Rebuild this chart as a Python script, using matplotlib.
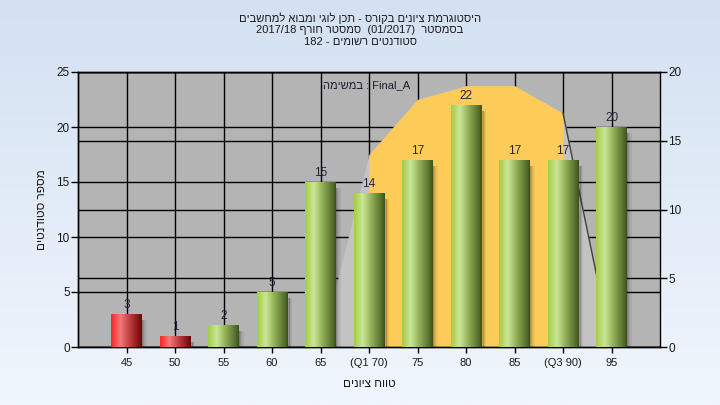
import numpy as np
import matplotlib
matplotlib.use("Agg")
import matplotlib.pyplot as plt
from matplotlib.colors import LinearSegmentedColormap

plt.rcParams['font.family'] = ['Liberation Sans', 'DejaVu Sans']

# ---- data ----
categories = ["45", "50", "55", "60", "65", "(Q1 70)", "75", "80", "85", "(Q3 90)", "95"]
counts = [3, 1, 2, 5, 15, 14, 17, 22, 17, 17, 20]
fail_flags = [True, True, False, False, False, False, False, False, False, False, False]
# distribution curve (right axis), from "65" to "95"
curve_idx = [4, 5, 6, 7, 8, 9, 10]
curve_vals = [0, 14, 18, 19, 19, 17, 0]
iqr_from, iqr_to = 5, 9   # Q1 .. Q3 indices

left_ticks = [0, 5, 10, 15, 20, 25]
right_ticks = [0, 5, 10, 15, 20]

title_lines = [
    "היסטוגרמת ציונים בקורס - תכן לוגי ומבוא למחשבים",
    ("2017/18 ", "סמסטר חורף", "  (01/2017)  ", "בסמסטר"),
    ("182 - ", "סטודנטים רשומים"),
]
xlabel = "טווח ציונים"
ylabel = "מספר סטודנטים"
legend_txt = ("במשימה", " : Final_A")


def vis(s):
    """visual (left-to-right) order for a pure Hebrew run"""
    return s[::-1]


fig = plt.figure(figsize=(7.2, 4.05), dpi=100)

# background gradient
bg = fig.add_axes([0, 0, 1, 1], zorder=-10)
grad = np.linspace(0, 1, 256).reshape(-1, 1)
bgcmap = LinearSegmentedColormap.from_list("bg", ["#d4e1f2", "#f0f6fd"])
bg.imshow(grad, aspect="auto", cmap=bgcmap, extent=[0, 1, 0, 1])
bg.axis("off")

pos = [78 / 720, 58 / 405, 582 / 720, 275 / 405]
axR = fig.add_axes(pos, zorder=1)
ax = fig.add_axes(pos, zorder=2)
ax.patch.set_visible(False)
axR.set_facecolor("#b4b4b4")

n = len(categories)
x = np.arange(n)
for a_ in (ax, axR):
    a_.set_xlim(-1, n)
ax.set_ylim(0, 25)
axR.set_ylim(0, 20)

# gridlines (below the area)
for xv in x:
    axR.axvline(xv, color="black", lw=1.0, zorder=0.5)
for yv in right_ticks:
    axR.axhline(yv, color="black", lw=1.0, zorder=0.5)
for yv in left_ticks:
    axR.plot([0, 1], [yv, yv], transform=ax.get_yaxis_transform(),
             color="black", lw=1.0, zorder=0.5)

# distribution area
cx = np.array(curve_idx)
cv = np.array(curve_vals)
axR.fill_between(cx, 0, cv, color="#c3c3c3", lw=0, zorder=1)
m = (cx >= iqr_from) & (cx <= iqr_to)
axR.fill_between(cx[m], 0, cv[m], color="#fdcb58", lw=0, zorder=1.2)
m2 = cx >= iqr_to
axR.plot(cx[m2], cv[m2], color="#404040", lw=1.0, zorder=1.3)

# bars
bw = 0.62
# shadows
for k, a in enumerate([0.30, 0.20, 0.12, 0.06]):
    ax.bar(x + bw / 2 + k * 0.025, np.array(counts) - 0.4, width=0.03,
           bottom=-0.15, align="edge", color="black", alpha=a, lw=0, zorder=2)
bars = ax.bar(x, counts, width=bw, color="#9cc64a", lw=0, zorder=3)

green = LinearSegmentedColormap.from_list(
    "g", [(0, "#a2cc45"), (0.28, "#cbe697"), (0.55, "#94b35a"), (0.93, "#4d6626"), (1, "#3a4e1c")])
red = LinearSegmentedColormap.from_list(
    "r", [(0, "#ff2222"), (0.30, "#f07a7a"), (0.6, "#c04040"), (0.93, "#7a1010"), (1, "#600808")])
hgrad = np.linspace(0, 1, 128).reshape(1, -1)
for b, f in zip(bars, fail_flags):
    x0 = b.get_x()
    w = b.get_width()
    h = b.get_height()
    ax.imshow(hgrad, cmap=red if f else green, aspect="auto",
              extent=[x0, x0 + w, 0, h], zorder=3.5, interpolation="bilinear")

for b, v in zip(bars, counts):
    ax.annotate(str(v), (b.get_x() + b.get_width() / 2, b.get_height()),
                xytext=(0, 2), textcoords="offset points", ha="center", va="bottom",
                fontsize=8.5, color="#2a2040", zorder=5)

ax.set_xlim(-1, n)
ax.set_ylim(0, 25)
axR.set_ylim(0, 20)

# axes cosmetics
ax.set_xticks(x)
ax.set_xticklabels(categories, fontsize=8, color="#1a1a1a")
ax.yaxis.tick_left()
ax.set_yticks(left_ticks)
ax.set_yticklabels([str(t) for t in left_ticks], fontsize=8.5, color="#1a1a1a")
axR.yaxis.tick_right()
axR.set_yticks(right_ticks)
axR.set_yticklabels([str(t) for t in right_ticks], fontsize=8.5, color="#1a1a1a")
axR.tick_params(axis="x", bottom=False, labelbottom=False)
ax.tick_params(axis="x", length=4, width=1, pad=4)
ax.tick_params(axis="y", length=5, width=1, pad=1)
axR.tick_params(axis="y", length=5, width=1, pad=1)
for s in ax.spines.values():
    s.set_color("black")
    s.set_linewidth(1)
for s in axR.spines.values():
    s.set_color("black")
    s.set_linewidth(1)
ax.spines["right"].set_visible(False)

ax.set_xlabel(vis(xlabel), fontsize=8.5, color="#1a1a1a", labelpad=7)
ax.set_ylabel(vis(ylabel), fontsize=8.5, color="#1a1a1a", labelpad=6)

ax.text(0.495, 0.953, vis(legend_txt[0]) + legend_txt[1], transform=ax.transAxes,
        ha="center", va="center", fontsize=8, color="#1a1a30", zorder=6)

# title
t1 = vis(title_lines[0])
t2 = title_lines[1][0] + vis(title_lines[1][1]) + title_lines[1][2] + vis(title_lines[1][3])
t3 = title_lines[2][0] + vis(title_lines[2][1])
for txt, yy in zip([t1, t2, t3], [18, 30, 42]):
    fig.text(0.5, 1 - yy / 405, txt, ha="center", va="center", fontsize=8, color="#1a1a1a")

fig.savefig("out.png", dpi=100)
